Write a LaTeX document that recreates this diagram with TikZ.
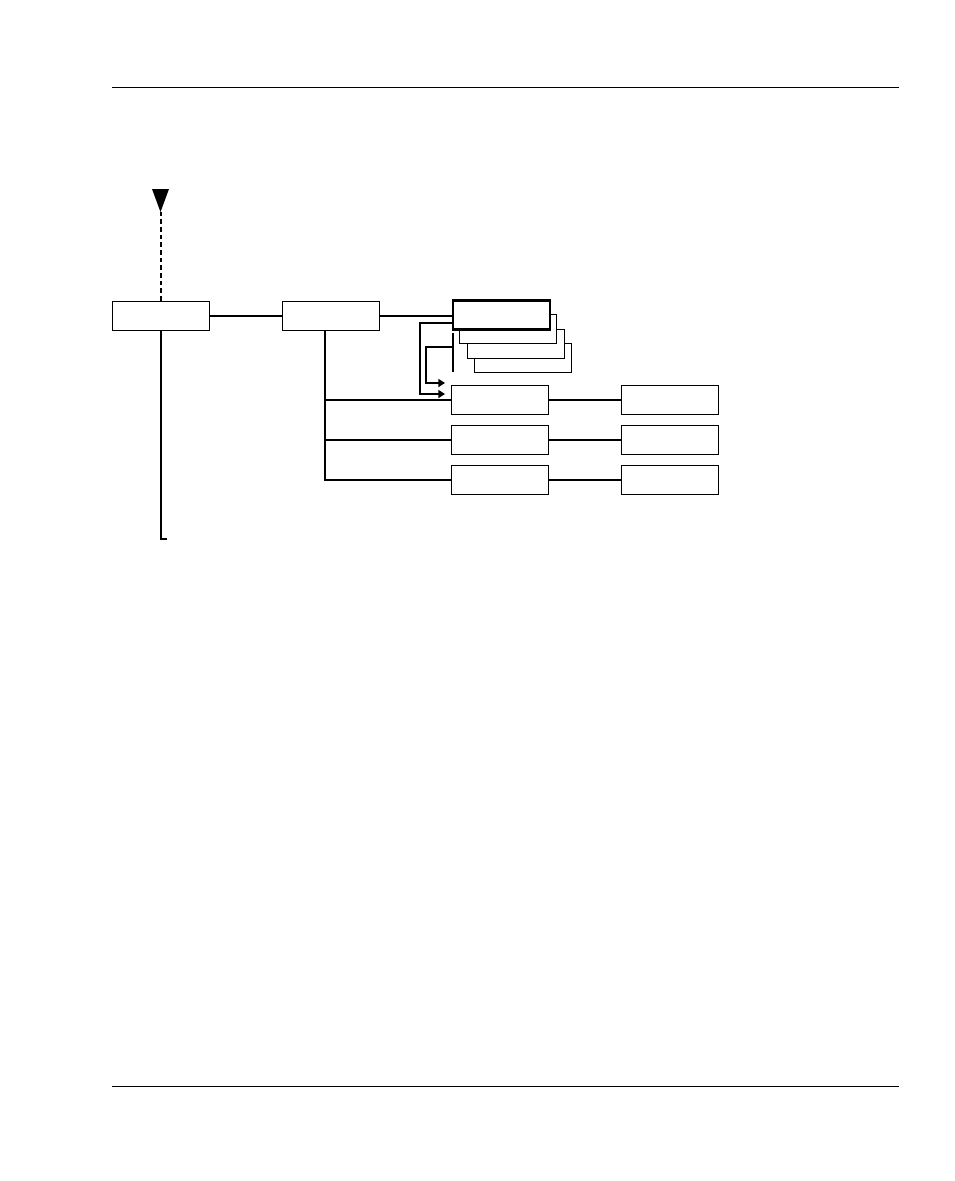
\documentclass[tikz,border=0pt]{standalone}
\usetikzlibrary{arrows.meta}
\tikzset{
  boite/.style={draw, line width=0.65pt, fill=white, inner sep=0pt,
    minimum width=72.75pt, minimum height=21.75pt},
  lien/.style={line width=1.5pt},
  fleche/.style={lien, -{Triangle[length=5pt,width=6pt]}},
}
\begin{document}
\begin{tikzpicture}[x=0.75pt, y=-0.75pt]
    \useasboundingbox (0, 0) rectangle (954, 1181) ;
    % page rules
    \draw[line width=0.65pt] (112, 87) -- (899, 87) ;
    \draw[line width=0.65pt] (112, 1086) -- (899, 1086) ;
    % boxes
    \node[boite] (A) at (160.5, 315.5) {} ;
    \node[boite] (B) at (331, 315.5) {} ;
    \node[boite] (C4) at (523, 358) {} ;
    \node[boite] (C3) at (515.5, 343.5) {} ;
    \node[boite] (C2) at (507.5, 329) {} ;
    \node[boite, line width=1.8pt] (C) at (501.5, 315) {} ;
    \node[boite] (D1) at (499.5, 399.5) {} ;
    \node[boite] (D2) at (499.5, 439.5) {} ;
    \node[boite] (D3) at (499.5, 479.5) {} ;
    \node[boite] (E1) at (670, 399.5) {} ;
    \node[boite] (E2) at (670, 439.5) {} ;
    \node[boite] (E3) at (670, 479.5) {} ;
    % entry arrow
    \coordinate (pointe) at (160.5, 212) ;
    \fill (152, 189) -- (169, 189) -- (pointe) -- cycle ;
    \draw[lien, dash pattern=on 3.5pt off 2.25pt] (A.north) -- (pointe) ;
    % main line
    \coordinate (fin) at (160.5, 539) ;
    \draw[lien] (A.south) -- (fin) -- ++ (6, 0) ;
    \draw[lien] (A) -- (B) ;
    \draw[lien] (B.east) -- (B.east -| C.west) ;
    % branches from B
    \coordinate (tronc) at (325, 330) ;
    \draw[lien] (tronc) |- (D3.west) ;
    \draw[lien] (tronc |- D1) -- (D1.west) ;
    \draw[lien] (tronc |- D2) -- (D2.west) ;
    \draw[lien] (D1) -- (E1) ;
    \draw[lien] (D2) -- (E2) ;
    \draw[lien] (D3) -- (E3) ;
    % loops back
    \coordinate (bord) at (453, 333) ;
    \draw[lien] (bord) -- ++ (0, 39) ;
    \draw[fleche] (C.west |- 0, 323) -| (420, 394) -- ++ (25, 0) ;
    \draw[fleche] (453, 347) -| (426, 383) -- ++ (19, 0) ;
  \end{tikzpicture}
\end{document}
